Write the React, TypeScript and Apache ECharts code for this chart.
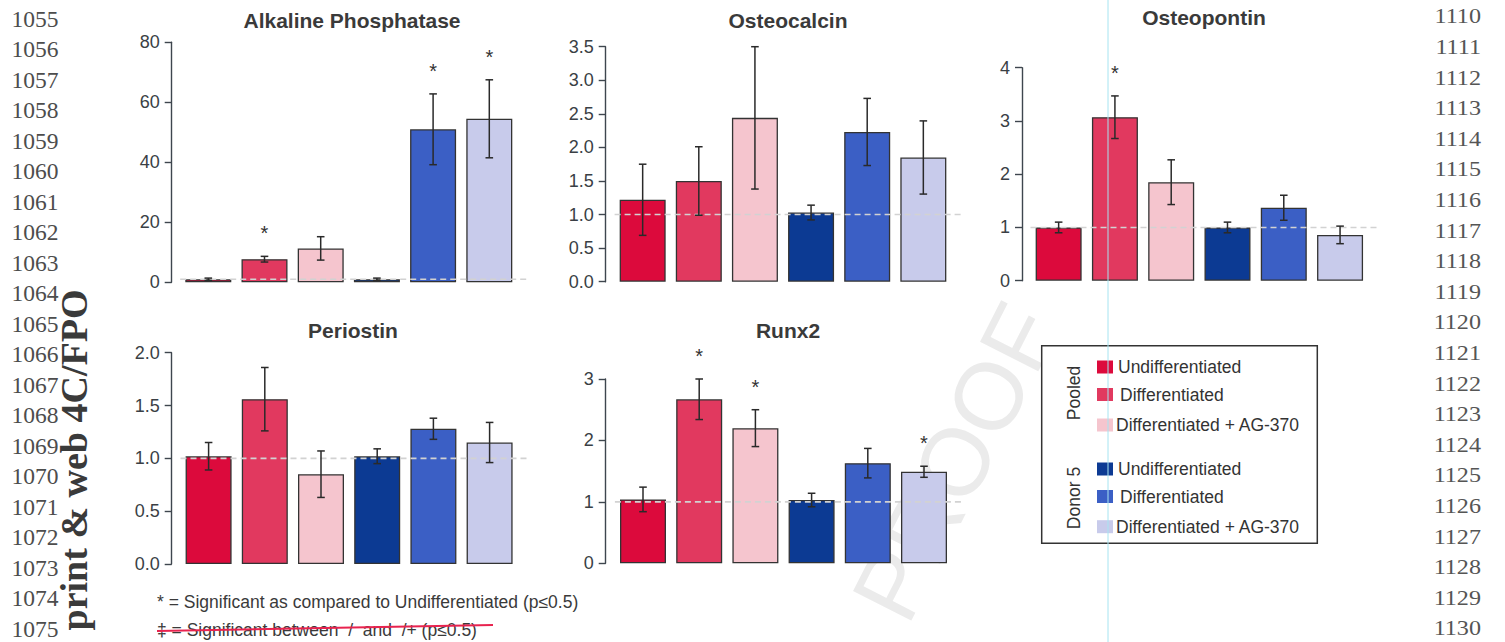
import React, { useEffect, useRef } from 'react';
import * as echarts from 'echarts';

// ---------- data ----------
const CATEGORIES = [
  'Pooled Undifferentiated',
  'Pooled Differentiated',
  'Pooled Differentiated + AG-370',
  'Donor 5 Undifferentiated',
  'Donor 5 Differentiated',
  'Donor 5 Differentiated + AG-370',
];
const GROUP_LABELS = ['Pooled', 'Donor 5'];
const LEGEND_LABELS = ['Undifferentiated', 'Differentiated', 'Differentiated + AG-370'];

const ALP_MEAN = [1.0, 7.7, 11.3, 1.0, 51.0, 54.5];
const ALP_SEM = [0.4, 0.95, 3.9, 0.4, 11.8, 13.0];
const ALP_SIG = [0, 1, 0, 0, 1, 1];
const ALP_TICKS = [0, 20, 40, 60, 80];

const OCN_MEAN = [1.22, 1.5, 2.44, 1.03, 2.23, 1.85];
const OCN_SEM = [0.53, 0.51, 1.06, 0.11, 0.5, 0.545];
const OCN_SIG = [0, 0, 0, 0, 0, 0];
const OCN_TICKS = [0, 0.5, 1, 1.5, 2, 2.5, 3, 3.5];

const OPN_MEAN = [1.0, 3.07, 1.85, 1.0, 1.37, 0.86];
const OPN_SEM = [0.1, 0.4, 0.42, 0.1, 0.235, 0.165];
const OPN_SIG = [0, 1, 0, 0, 0, 0];
const OPN_TICKS = [0, 1, 2, 3, 4];

const POSTN_MEAN = [1.02, 1.56, 0.85, 1.02, 1.28, 1.15];
const POSTN_SEM = [0.13, 0.3, 0.22, 0.07, 0.1, 0.19];
const POSTN_SIG = [0, 0, 0, 0, 0, 0];
const POSTN_TICKS = [0, 0.5, 1, 1.5, 2];

const RUNX2_MEAN = [1.04, 2.67, 2.2, 1.03, 1.63, 1.49];
const RUNX2_SEM = [0.2, 0.33, 0.3, 0.11, 0.24, 0.09];
const RUNX2_SIG = [0, 1, 1, 0, 0, 1];
const RUNX2_TICKS = [0, 1, 2, 3];

const REFERENCE_LEVEL = 1;

const FOOTNOTE_1 = '* = Significant as compared to Undifferentiated (p≤0.5)';
const FOOTNOTE_2 = '‡ = Significant between \u00a0/\u00a0 and \u00a0/+ (p≤0.5)';
const SIDE_NOTE = 'print & web 4C/FPO';
const WATERMARK = 'PROOF';
const LEFT_LINE_START = 1055;
const RIGHT_LINE_START = 1110;
const LINE_COUNT = 21;

// ---------- styles / layout ----------
const COLORS = ['#dc0a3c', '#e1395f', '#f5c5ce', '#0c3a93', '#3b5fc5', '#c8cbeb'];
const SANS = '"Liberation Sans", Arial, sans-serif';
const SERIF = '"Liberation Serif", "Times New Roman", serif';
const TEXT_COLOR = '#333';

const PANELS = [
  { name: 'Alkaline Phosphatase', mean: ALP_MEAN, sem: ALP_SEM, sig: ALP_SIG, ticks: ALP_TICKS, dec: 0 },
  { name: 'Osteocalcin', mean: OCN_MEAN, sem: OCN_SEM, sig: OCN_SIG, ticks: OCN_TICKS, dec: 1 },
  { name: 'Osteopontin', mean: OPN_MEAN, sem: OPN_SEM, sig: OPN_SIG, ticks: OPN_TICKS, dec: 0 },
  { name: 'Periostin', mean: POSTN_MEAN, sem: POSTN_SEM, sig: POSTN_SIG, ticks: POSTN_TICKS, dec: 1 },
  { name: 'Runx2', mean: RUNX2_MEAN, sem: RUNX2_SEM, sig: RUNX2_SIG, ticks: RUNX2_TICKS, dec: 0 },
];

const LAYOUT = [
  { left: 180.2, top: 42.3, width: 337.2, height: 240, offset: 8.5, titleX: 352, titleY: 20 },
  { left: 614.6, top: 46.7, width: 336.8, height: 235, offset: 8.9, titleX: 788, titleY: 20.5 },
  { left: 1030.5, top: 67.7, width: 337.7, height: 213, offset: 8.5, titleX: 1204, titleY: 17 },
  { left: 180.5, top: 352.7, width: 337.2, height: 211.3, offset: 8.8, titleX: 353, titleY: 330.5 },
  { left: 614.9, top: 379, width: 337.2, height: 184.3, offset: 9.2, titleX: 788, titleY: 330 },
];

function buildOption() {
  const grid: any[] = [];
  const xAxis: any[] = [];
  const yAxis: any[] = [];
  const series: any[] = [];
  const title: any[] = [];

  PANELS.forEach((p, i) => {
    const L = LAYOUT[i];
    grid.push({ left: L.left, top: L.top, width: L.width, height: L.height, containLabel: false, outerBoundsMode: 'none' });
    xAxis.push({
      type: 'category',
      gridIndex: i,
      data: CATEGORIES,
      axisLine: { show: false },
      axisTick: { show: false },
      axisLabel: { show: false },
      splitLine: { show: false },
    });
    yAxis.push({
      type: 'value',
      gridIndex: i,
      min: p.ticks[0],
      max: p.ticks[p.ticks.length - 1],
      interval: p.ticks[1] - p.ticks[0],
      offset: L.offset,
      axisLine: { show: true, lineStyle: { color: '#3e464e', width: 1.4 } },
      axisTick: { show: true, length: 7, lineStyle: { color: '#3e464e', width: 1.4 } },
      axisLabel: {
        margin: 12,
        fontFamily: SANS,
        fontSize: 18,
        color: '#3a3f45',
        formatter: (v: number) => v.toFixed(p.dec),
      },
      splitLine: { show: false },
    });
    title.push({
      text: p.name,
      left: L.titleX,
      top: L.titleY - 10.5,
      textAlign: 'center',
      padding: 0,
      textStyle: { fontFamily: SANS, fontWeight: 'bold', fontSize: 21, color: '#3a3a3a' },
    });
    series.push({
      type: 'bar',
      xAxisIndex: i,
      yAxisIndex: i,
      barWidth: 46,
      z: 2,
      itemStyle: { borderColor: '#333', borderWidth: 1.3 },
      data: p.mean.map((v, k) => ({ value: v, itemStyle: { color: COLORS[k] } })),
    });
    series.push({
      type: 'custom',
      xAxisIndex: i,
      yAxisIndex: i,
      z: 3,
      silent: true,
      data: [[0, REFERENCE_LEVEL]],
      encode: { x: 0, y: 1 },
      renderItem: (params: any, api: any) => {
        const cs = params.coordSys;
        const y = api.coord([0, api.value(1)])[1];
        return {
          type: 'line',
          shape: { x1: cs.x, y1: y, x2: cs.x + cs.width + 10, y2: y },
          style: { stroke: '#d2d2d2', lineWidth: 1.6, lineDash: [6, 4] },
        };
      },
    });
    series.push({
      type: 'custom',
      xAxisIndex: i,
      yAxisIndex: i,
      z: 4,
      silent: true,
      data: p.mean.map((v, k) => [k, v - p.sem[k], v + p.sem[k], p.sig[k]]),
      encode: { x: 0, y: [1, 2] },
      renderItem: (params: any, api: any) => {
        const idx = api.value(0);
        const hi = api.coord([idx, api.value(2)]);
        const lo = api.coord([idx, api.value(1)]);
        const cx = hi[0];
        const cap = 3.8;
        const st = { stroke: '#2a2a2a', lineWidth: 1.5 };
        const children: any[] = [
          { type: 'line', shape: { x1: cx, y1: hi[1], x2: cx, y2: lo[1] }, style: st },
          { type: 'line', shape: { x1: cx - cap, y1: hi[1], x2: cx + cap, y2: hi[1] }, style: st },
          { type: 'line', shape: { x1: cx - cap, y1: lo[1], x2: cx + cap, y2: lo[1] }, style: st },
        ];
        if (api.value(3)) {
          children.push({
            type: 'text',
            style: {
              text: '*',
              x: cx,
              y: hi[1] - 23,
              fill: TEXT_COLOR,
              font: `20px ${SANS}`,
              textAlign: 'center',
              align: 'center',
              textVerticalAlign: 'middle',
              verticalAlign: 'middle',
            },
          });
        }
        return { type: 'group', children };
      },
    });
  });

  const graphic: any[] = [];

  // watermark
  graphic.push({
    type: 'text',
    x: 955,
    y: 462,
    rotation: (63 * Math.PI) / 180,
    z: -10,
    silent: true,
    style: {
      text: WATERMARK,
      font: `95px ${SANS}`,
      fill: '#ebebeb',
      textAlign: 'center',
      align: 'center',
      textVerticalAlign: 'middle',
      verticalAlign: 'middle',
    },
  });

  // line numbers
  for (let k = 0; k < LINE_COUNT; k++) {
    graphic.push({
      type: 'text',
      x: 11.5,
      y: 18.5 + k * 30.5,
      style: {
        text: String(LEFT_LINE_START + k),
        font: `23.5px ${SERIF}`,
        fill: '#4d4d4d',
        textAlign: 'left',
        align: 'left',
        textVerticalAlign: 'middle',
        verticalAlign: 'middle',
      },
    });
    graphic.push({
      type: 'text',
      x: 1481,
      y: 16.5 + k * 30.6,
      scaleX: 1.15,
      style: {
        text: String(RIGHT_LINE_START + k),
        font: `21px ${SERIF}`,
        fill: '#555',
        textAlign: 'right',
        align: 'right',
        textVerticalAlign: 'middle',
        verticalAlign: 'middle',
      },
    });
  }

  // rotated side note
  graphic.push({
    type: 'text',
    x: 74,
    y: 460,
    rotation: Math.PI / 2,
    style: {
      text: SIDE_NOTE,
      font: `bold 38px ${SERIF}`,
      fill: '#3a3a3a',
      textAlign: 'center',
      align: 'center',
      textVerticalAlign: 'middle',
      verticalAlign: 'middle',
    },
  });

  // footnotes
  graphic.push({
    type: 'text',
    x: 157,
    y: 601.5,
    style: { text: FOOTNOTE_1, font: `17.5px ${SANS}`, fill: '#3a3a3a', textVerticalAlign: 'middle', verticalAlign: 'middle' },
  });
  graphic.push({
    type: 'text',
    x: 157,
    y: 630,
    style: { text: FOOTNOTE_2, font: `17.5px ${SANS}`, fill: '#3a3a3a', textVerticalAlign: 'middle', verticalAlign: 'middle' },
  });
  graphic.push({
    type: 'line',
    z: 20,
    shape: { x1: 157, y1: 631, x2: 493, y2: 625 },
    style: { stroke: '#e8234f', lineWidth: 2 },
  });

  // legend
  const legendChildren: any[] = [
    { type: 'rect', shape: { x: 1041.7, y: 345.7, width: 275.6, height: 197.6 }, style: { fill: '#fff', stroke: '#333', lineWidth: 1.5 } },
  ];
  const groupCenters = [393, 498];
  GROUP_LABELS.forEach((g, gi) => {
    legendChildren.push({
      type: 'text',
      x: 1074,
      y: groupCenters[gi],
      rotation: Math.PI / 2,
      style: {
        text: g,
        font: `17.5px ${SANS}`,
        fill: TEXT_COLOR,
        textAlign: 'center',
        align: 'center',
        textVerticalAlign: 'middle',
        verticalAlign: 'middle',
      },
    });
  });
  const rowY = [367, 394.5, 425, 469, 496.5, 526.7];
  const textX = [1118, 1120, 1116];
  CATEGORIES.forEach((c, k) => {
    legendChildren.push({
      type: 'rect',
      shape: { x: 1097, y: rowY[k] - 6.5, width: 16, height: 13 },
      style: { fill: COLORS[k] },
    });
    legendChildren.push({
      type: 'text',
      x: textX[k % 3],
      y: rowY[k],
      style: {
        text: LEGEND_LABELS[k % 3],
        font: `17.5px ${SANS}`,
        fill: TEXT_COLOR,
        textVerticalAlign: 'middle',
        verticalAlign: 'middle',
      },
    });
  });
  graphic.push({ type: 'group', z: 10, children: legendChildren });

  // cyan guide line
  graphic.push({
    type: 'line',
    z: 100,
    silent: true,
    shape: { x1: 1108, y1: 0, x2: 1108, y2: 642 },
    style: { stroke: '#a6e4f1', lineWidth: 1 },
  });

  return {
    animation: false,
    backgroundColor: '#fff',
    title,
    grid,
    xAxis,
    yAxis,
    series,
    graphic,
  };
}

export default function App() {
  const ref = useRef<HTMLDivElement>(null);
  useEffect(() => {
    const chart = echarts.init(ref.current as HTMLDivElement, null, { renderer: 'svg' });
    chart.setOption(buildOption() as any);
    return () => chart.dispose();
  }, []);
  return (
    <div
      ref={ref}
      style={{ position: 'fixed', left: 0, top: 0, width: 1505, height: 642, background: '#fff' }}
    />
  );
}
